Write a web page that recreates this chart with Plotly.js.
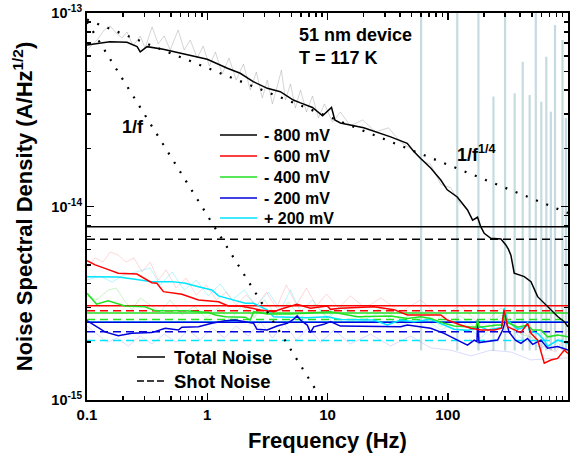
<!DOCTYPE html>
<html><head><meta charset="utf-8">
<script src="https://cdn.plot.ly/plotly-3.0.1.min.js"></script>
<style>html,body{margin:0;padding:0;background:#fff}</style>
</head><body><div id="chart" style="width:584px;height:453px"></div>
<script>
// ---------- data ----------
const seriesNames = ['- 800 mV','- 600 mV','- 400 mV','- 200 mV','+ 200 mV'];
const seriesColors = ['#000000','#ff0000','#22e022','#0000dd','#00e5ff'];
const totalNoise = [7.87e-15,3.07e-15,2.82e-15,2.52e-15,2.53e-15];
const shotNoise  = [6.77e-15,2.89e-15,2.61e-15,2.25e-15,2.03e-15];
const levelF = [0.1,1000];

const blackF = [0.1,0.155,0.215,0.261,0.277,0.316,0.43,0.68,1.0,1.47,1.88,2.41,3.16,4.05,5.2,5.96,7.5,9.1,10.8,11.5,12.8,20,33.5,46,52,59.6,72.1,87.5,99,120,146,161,177,188,201,228,277,304,320,335,357,433,492,559,635,721,820,932,1000];
const blackS = [6.84e-14,7.1e-14,7.06e-14,6.7e-14,6.3e-14,6.7e-14,6.49e-14,6.06e-14,5.77e-14,5.18e-14,4.88e-14,4.42e-14,4.08e-14,3.92e-14,3.55e-14,3.43e-14,3.25e-14,2.94e-14,3.25e-14,2.8e-14,2.7e-14,2.55e-14,2.29e-14,2.12e-14,1.93e-14,1.77e-14,1.58e-14,1.37e-14,1.22e-14,1.12e-14,9.6e-15,8.5e-15,8.8e-15,7.87e-15,7.27e-15,6.85e-15,6.8e-15,6.33e-15,6.0e-15,5.6e-15,4.52e-15,4.34e-15,4.09e-15,3.42e-15,3.16e-15,2.92e-15,2.70e-15,2.54e-15,2.39e-15];

const redF = [0.1,0.117,0.141,0.182,0.26,0.346,0.381,0.432,0.615,0.846,1.24,1.5,1.88,2.77,3.57,4.32,5.59,7.21,9.94,10.6,12.8,24.3,35.7,46.2,87.5,99.4,128,156,188,243,280,294,314,406,461,492,559,635,721,820,932,1000];
const redS = [5.25e-15,4.99e-15,4.79e-15,4.52e-15,4.48e-15,4.04e-15,4.01e-15,3.63e-15,3.52e-15,3.29e-15,3.22e-15,3.06e-15,3.06e-15,2.92e-15,2.86e-15,2.98e-15,3.12e-15,2.98e-15,3.06e-15,2.94e-15,2.98e-15,3.03e-15,2.93e-15,2.75e-15,2.75e-15,2.59e-15,2.44e-15,2.35e-15,2.30e-15,2.30e-15,2.35e-15,2.92e-15,2.39e-15,2.23e-15,2.49e-15,2.21e-15,2.04e-15,1.55e-15,1.61e-15,1.64e-15,1.81e-15,1.74e-15];

const greenF = [0.1,0.12,0.15,0.207,0.304,0.369,0.656,1.03,1.17,1.41,2.07,2.28,2.43,3.15,4.92,10.6,17.7,33.5,46.2,59.6,72.1,93.2,113,146,172,177,182,260,285,294,304,381,461,508,596,677,820,1000];
const greenS = [3.56e-15,3.13e-15,3.26e-15,3.06e-15,3.03e-15,2.89e-15,2.89e-15,2.83e-15,2.75e-15,2.69e-15,2.68e-15,2.59e-15,2.86e-15,2.78e-15,2.78e-15,2.86e-15,2.69e-15,2.72e-15,2.64e-15,2.69e-15,2.64e-15,2.49e-15,2.41e-15,2.38e-15,2.38e-15,2.6e-15,2.38e-15,2.44e-15,2.44e-15,2.83e-15,2.54e-15,2.38e-15,2.44e-15,2.30e-15,2.30e-15,2.12e-15,2.17e-15,2.12e-15];

const blueF = [0.1,0.117,0.141,0.182,0.236,0.346,0.447,0.576,0.615,0.846,1.09,1.41,1.71,2.07,2.43,2.59,3.15,3.81,4.62,5.24,5.59,5.96,6.78,7.21,7.69,9.31,10.6,12.8,24.3,40.6,46.2,59.6,72.1,93.2,120,146,166,175,177,180,182,260,286,304,323,365,406,461,508,596,677,820,1000];
const blueS = [2.57e-15,2.41e-15,2.25e-15,2.15e-15,2.21e-15,2.23e-15,2.35e-15,2.30e-15,2.38e-15,2.39e-15,2.49e-15,2.57e-15,2.59e-15,2.54e-15,2.49e-15,2.32e-15,2.30e-15,2.41e-15,2.49e-15,2.62e-15,2.72e-15,2.59e-15,2.44e-15,2.23e-15,2.39e-15,2.46e-15,2.54e-15,2.41e-15,2.41e-15,2.39e-15,2.44e-15,2.38e-15,2.35e-15,2.21e-15,2.04e-15,1.92e-15,2.04e-15,2.0e-15,2.6e-15,2.0e-15,1.98e-15,2.04e-15,2.30e-15,2.61e-15,2.25e-15,2.04e-15,1.96e-15,2.08e-15,1.94e-15,2.04e-15,1.85e-15,1.89e-15,1.81e-15];

const cyanF = [0.1,0.182,0.251,0.346,0.508,0.656,0.846,1.09,1.24,1.82,2.07,2.43,3.15,3.57,4.32,6.78,9.94,12.8,24.3,31.4,40.6,52.4,72.1,93.2,113,146,188,214,280,294,314,381,450,461,475,508,559,635,677,820,1000];
const cyanS = [4.34e-15,4.32e-15,4.21e-15,4.09e-15,4.09e-15,4.01e-15,3.85e-15,3.70e-15,3.45e-15,3.22e-15,3.16e-15,3.16e-15,2.92e-15,2.69e-15,2.68e-15,2.66e-15,2.69e-15,2.61e-15,2.59e-15,2.44e-15,2.59e-15,2.54e-15,2.61e-15,2.44e-15,2.32e-15,2.29e-15,2.39e-15,2.30e-15,2.37e-15,2.98e-15,2.59e-15,2.32e-15,2.4e-15,2.54e-15,2.3e-15,2.25e-15,2.21e-15,2.04e-15,1.89e-15,2.04e-15,1.96e-15];

// raw (unsmoothed) traces, drawn faintly
const grayRawF = [0.1,0.121,0.139,0.156,0.178,0.196,0.215,0.242,0.277,0.304,0.348,0.391,0.438,0.492,0.573,0.643,0.722,0.826,0.926,1.04,1.17,1.33,1.52,1.74,2.0,2.28,2.56,2.87,3.16,3.48,3.83,4.14,4.47,4.92,5.41,5.96,6.68,7.5,8.41,9.44,11.0,12.8,15.5,19.6,25.1,32.2,40.6,51.1,59.6,72.1,87.5,106,128];
const grayRawS = [6.44e-14,7.25e-14,8.17e-14,8.57e-14,7.79e-14,7.43e-14,7.98e-14,6.75e-14,7.61e-14,6.59e-14,8.47e-14,6.92e-14,7.61e-14,6.44e-14,8.17e-14,6.44e-14,7.25e-14,5.85e-14,6.75e-14,5.32e-14,6.29e-14,4.84e-14,5.85e-14,4.50e-14,5.45e-14,4.0e-14,4.95e-14,3.64e-14,4.50e-14,3.39e-14,4.2e-14,5.07e-14,3.55e-14,4.30e-14,3.23e-14,4.0e-14,3.08e-14,3.72e-14,2.87e-14,3.39e-14,2.73e-14,3.08e-14,2.61e-14,2.80e-14,2.43e-14,2.55e-14,2.15e-14,1.96e-14,1.74e-14,1.65e-14,1.30e-14,1.25e-14,1.02e-14];
const redRawF = [0.1,0.117,0.136,0.156,0.181,0.211,0.246,0.287,0.335,0.391,0.455,0.552,0.668,0.81,0.981,1.19,1.44,1.74,2.11,2.56,3.10,3.76,4.55,5.52,6.68,8.09,9.81,12.4,15.5,20.7,27.7,40.6,59.6,87.5,128,188,277,406,596,794,1000];
const redRawS = [4.81e-15,5.42e-15,5.16e-15,5.82e-15,5.62e-15,5.16e-15,5.42e-15,4.59e-15,5.16e-15,4.17e-15,4.70e-15,3.79e-15,4.27e-15,3.49e-15,3.93e-15,3.29e-15,3.61e-15,3.10e-15,3.49e-15,3.06e-15,3.61e-15,2.99e-15,3.93e-15,3.10e-15,3.79e-15,3.06e-15,3.53e-15,2.99e-15,3.45e-15,2.99e-15,3.37e-15,2.85e-15,3.29e-15,2.65e-15,3.10e-15,2.41e-15,2.99e-15,2.30e-15,1.92e-15,1.77e-15,2.30e-15];
const greenRawF = [0.1,0.121,0.150,0.175,0.203,0.237,0.277,0.335,0.406,0.492,0.619,0.779,0.981,1.24,1.55,1.96,2.46,2.99,3.76,4.73,5.96,7.79,10.2,13.3,18.8,27.7,40.6,59.6,87.5,128,188,277,406,596,794,1000];
const greenRawS = [3.45e-15,3.29e-15,3.70e-15,3.79e-15,3.29e-15,2.92e-15,3.37e-15,3.10e-15,2.85e-15,3.29e-15,2.75e-15,3.06e-15,2.65e-15,2.99e-15,2.59e-15,3.10e-15,2.65e-15,3.29e-15,2.72e-15,3.21e-15,2.65e-15,3.13e-15,2.65e-15,3.06e-15,2.65e-15,2.99e-15,2.59e-15,2.92e-15,2.41e-15,2.72e-15,2.25e-15,2.75e-15,2.19e-15,2.04e-15,2.14e-15,1.92e-15];
const cyanRawF = [0.1,0.128,0.162,0.203,0.256,0.335,0.406,0.511,0.643,0.81,1.02,1.28,1.61,2.03,2.56,3.22,4.06,4.92,5.96,7.5,9.81,12.8,18.8,27.7,40.6,59.6,87.5,128,188,277,406,596,794,1000];
const cyanRawS = [4.17e-15,4.37e-15,4.07e-15,4.43e-15,4.59e-15,4.81e-15,3.93e-15,4.59e-15,3.70e-15,4.17e-15,3.45e-15,3.98e-15,3.29e-15,3.70e-15,3.06e-15,3.61e-15,2.92e-15,3.70e-15,2.85e-15,3.29e-15,2.65e-15,3.06e-15,2.53e-15,2.85e-15,2.41e-15,2.72e-15,2.30e-15,2.59e-15,2.09e-15,2.65e-15,2.09e-15,1.86e-15,1.99e-15,1.81e-15];
const blueRawF = [0.1,0.121,0.147,0.178,0.22,0.277,0.348,0.438,0.552,0.695,0.874,1.10,1.39,1.74,2.20,2.77,3.48,4.38,5.52,6.95,8.74,11.4,15.5,22.8,33.5,49.2,72.1,106,156,228,335,492,721,1000];
const blueRawS = [2.41e-15,2.19e-15,1.99e-15,2.09e-15,1.90e-15,2.14e-15,1.95e-15,2.19e-15,1.99e-15,2.30e-15,2.04e-15,2.36e-15,2.09e-15,2.41e-15,2.14e-15,2.53e-15,2.09e-15,2.47e-15,2.04e-15,2.36e-15,1.99e-15,2.30e-15,1.95e-15,2.19e-15,1.90e-15,2.14e-15,1.86e-15,1.81e-15,1.69e-15,1.81e-15,1.77e-15,1.61e-15,1.64e-15,1.65e-15];

// line-frequency pickup spikes in the raw data
const spikeF   = [60,120,180,240,300,360,420,480,540,600,660,720,780,900,960];
const spikeTop = [1.2e-13,1.2e-13,1.2e-13,3.7e-14,1.2e-13,3.85e-14,5.6e-14,3.77e-14,1.2e-13,3.48e-14,5.95e-14,3.09e-14,8.67e-14,7.25e-14,2.87e-14];
const spikeBase = 1.8e-15;

// power-law guide lines (end points)
const oneOverF_F = [0.1, 8.2];
const oneOverF_S = [9.0e-14, 1.1e-15];
const quarterF = [0.1, 1000];
const quarterS = [9.25e-14, 9.25e-15];

// axis ticks
const xTickVals = [0.1,1,10,100,1000];
const xTickText = ['0.1','1','10','100','1000'];
const xMinorVals = [0.2,0.3,0.4,0.5,0.6,0.7,0.8,0.9,2,3,4,5,6,7,8,9,20,30,40,50,60,70,80,90,200,300,400,500,600,700,800,900];
const yTickVals = [1e-15,1e-14,1e-13];
const yTickText = ['10<sup>-15</sup>','10<sup>-14</sup>','10<sup>-13</sup>'];
const yMinorVals = [2e-15,3e-15,4e-15,5e-15,6e-15,7e-15,8e-15,9e-15,2e-14,3e-14,4e-14,5e-14,6e-14,7e-14,8e-14,9e-14];

// ---------- build figure ----------
const FONT = 'Liberation Sans, Arial, Helvetica, sans-serif';
const NB = '\u00a0';
const traces = [];
const sx = [], sy = [];
spikeF.forEach((f,i)=>{ sx.push(f,f,null); sy.push(spikeBase, spikeTop[i], null); });
traces.push({x:sx,y:sy,mode:'lines',line:{color:'rgba(150,190,198,0.55)',width:2.2},showlegend:false,hoverinfo:'skip'});

const raws = [
  [blueRawF, blueRawS, 'rgba(90,90,255,0.22)'],
  [cyanRawF, cyanRawS, 'rgba(0,220,255,0.28)'],
  [greenRawF, greenRawS, 'rgba(60,220,60,0.28)'],
  [redRawF, redRawS, 'rgba(255,110,110,0.28)'],
  [grayRawF, grayRawS, 'rgba(150,150,150,0.4)']
];
raws.forEach(r=>traces.push({x:r[0],y:r[1],mode:'lines',line:{color:r[2],width:1},showlegend:false,hoverinfo:'skip'}));

// horizontal total / shot noise levels (cyan first so blue sits on top)
const levelOrder = [4,3,2,1,0];
levelOrder.forEach(i=>{
  traces.push({x:levelF,y:[totalNoise[i],totalNoise[i]],mode:'lines',line:{color:seriesColors[i],width:1.5},name:'Total Noise '+seriesNames[i],showlegend:false});
  traces.push({x:levelF,y:[shotNoise[i],shotNoise[i]],mode:'lines',line:{color:seriesColors[i],width:1.5,dash:'8px,5px'},name:'Shot Noise '+seriesNames[i],showlegend:false});
});

const curves = [[cyanF,cyanS,4],[blueF,blueS,3],[greenF,greenS,2],[redF,redS,1],[blackF,blackS,0]];
curves.forEach(c=>traces.push({x:c[0],y:c[1],mode:'lines',name:seriesNames[c[2]],line:{color:seriesColors[c[2]],width:1.5},showlegend:false}));

traces.push({x:oneOverF_F,y:oneOverF_S,mode:'lines',line:{color:'black',width:2.2,dash:'2px,9px'},showlegend:false,name:'1/f'});
traces.push({x:quarterF,y:quarterS,mode:'lines',line:{color:'black',width:2.2,dash:'2px,9px'},showlegend:false,name:'1/f^1/4'});

// manual legends
const px = v => (v-87)/481, py = v => (400-v)/387;
const shapes = [], annotations = [];
const legRows = [135,156,177,198,218];
seriesNames.forEach((n,i)=>{
  shapes.push({type:'line',xref:'paper',yref:'paper',x0:px(220),x1:px(257),y0:py(legRows[i]),y1:py(legRows[i]),line:{color:seriesColors[i],width:1.5}});
  annotations.push({xref:'paper',yref:'paper',x:px(262),y:py(legRows[i]),xanchor:'left',yanchor:'middle',showarrow:false,text:n,font:{family:FONT,size:16,weight:'bold',color:'black'}});
});
shapes.push({type:'line',xref:'paper',yref:'paper',x0:px(137),x1:px(165),y0:py(357),y1:py(357),line:{color:'black',width:1.5}});
shapes.push({type:'line',xref:'paper',yref:'paper',x0:px(137),x1:px(165),y0:py(381),y1:py(381),line:{color:'black',width:1.5,dash:'7px,3px'}});
annotations.push({xref:'paper',yref:'paper',x:px(172),y:py(357),xanchor:'left',yanchor:'middle',showarrow:false,text:'Total Noise',font:{family:FONT,size:18.5,weight:'bold',color:'black'}});
annotations.push({xref:'paper',yref:'paper',x:px(172),y:py(381),xanchor:'left',yanchor:'middle',showarrow:false,text:'Shot Noise',font:{family:FONT,size:18.5,weight:'bold',color:'black'}});
annotations.push({xref:'paper',yref:'paper',x:px(297),y:py(35),xanchor:'left',yanchor:'middle',showarrow:false,text:'51 nm device',font:{family:FONT,size:18,weight:'bold',color:'black'}});
annotations.push({xref:'paper',yref:'paper',x:px(297),y:py(58),xanchor:'left',yanchor:'middle',showarrow:false,text:'T = 117 K',font:{family:FONT,size:18,weight:'bold',color:'black'}});
annotations.push({xref:'paper',yref:'paper',x:px(120),y:py(127),xanchor:'left',yanchor:'middle',showarrow:false,text:'1/f',font:{family:FONT,size:18,weight:'bold',color:'black'}});
annotations.push({xref:'paper',yref:'paper',x:px(455),y:py(153),xanchor:'left',yanchor:'middle',showarrow:false,text:'1/f<sup>1/4</sup>',font:{family:FONT,size:18,weight:'bold',color:'black'}});

const axisCommon = {showline:true,linecolor:'black',linewidth:2,mirror:'ticks',ticks:'inside',ticklen:7,tickwidth:1.5,tickcolor:'black',showgrid:false,zeroline:false,tickmode:'array'};
const layout = {
  width:584,height:453,margin:{l:87,r:16,t:13,b:53},
  paper_bgcolor:'white',plot_bgcolor:'white',showlegend:false,
  font:{family:FONT,color:'black'},
  xaxis:Object.assign({},axisCommon,{type:'log',range:[-1,3],tickvals:xTickVals,ticktext:xTickText,
    tickfont:{family:FONT,size:15,weight:'bold',color:'black'},
    minor:{tickmode:'array',tickvals:xMinorVals,ticks:'inside',ticklen:4,tickwidth:1.5,tickcolor:'black',showgrid:false},
    title:{text:NB+NB+'Frequency (Hz)',font:{family:FONT,size:22,weight:'bold',color:'black'}}}),
  yaxis:Object.assign({},axisCommon,{type:'log',range:[-15,-13],tickvals:yTickVals,ticktext:yTickText,
    tickfont:{family:FONT,size:14.5,weight:'bold',color:'black'},
    minor:{tickmode:'array',tickvals:yMinorVals,ticks:'inside',ticklen:4,tickwidth:1.5,tickcolor:'black',showgrid:false},
    title:{text:NB+NB+NB+NB+NB+'Noise Spectral Density (A/Hz<sup>1/2</sup>)',font:{family:FONT,size:22,weight:'bold',color:'black'}}}),
  shapes:shapes, annotations:annotations
};
Plotly.newPlot('chart',traces,layout,{staticPlot:true,displayModeBar:false});
</script></body></html>
